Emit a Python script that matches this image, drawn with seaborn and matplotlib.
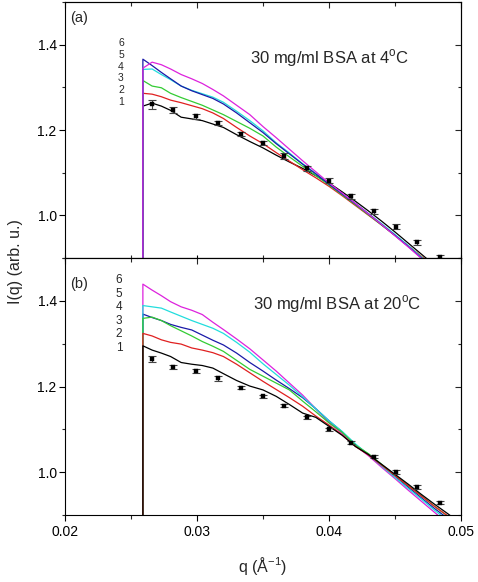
import numpy as np
import pandas as pd
import matplotlib
matplotlib.use("Agg")
import matplotlib.pyplot as plt
import seaborn as sns
from matplotlib.ticker import MultipleLocator, FormatStrFormatter

# ---------------- data ----------------
q0 = 0.0259           # low-q cut of the model curves (model = 0 below it)
I_cut = 0.0

q_model = [0.0259, 0.0266, 0.0273, 0.0280, 0.0288, 0.0296, 0.0304, 0.0312, 0.0320,
           0.0330, 0.0340, 0.0350, 0.0360, 0.0370, 0.0380, 0.0390, 0.0400, 0.0410,
           0.0420, 0.0430, 0.0440, 0.0450, 0.0460, 0.0470, 0.0480, 0.0490, 0.0500]

# panel (a): 30 mg/ml BSA at 4 C
a1 = [1.256, 1.263, 1.256, 1.246, 1.230, 1.226, 1.222, 1.214, 1.206, 1.189, 1.173, 1.158, 1.141,
      1.125, 1.110, 1.093, 1.076, 1.055, 1.033, 1.010, 0.986, 0.961, 0.935, 0.909, 0.883, 0.857, 0.831]
a2 = [1.286, 1.284, 1.278, 1.270, 1.264, 1.257, 1.250, 1.240, 1.227, 1.206, 1.186, 1.168, 1.147,
      1.127, 1.107, 1.088, 1.068, 1.046, 1.023, 1.000, 0.977, 0.953, 0.929, 0.904, 0.879, 0.854, 0.829]
a3 = [1.316, 1.303, 1.299, 1.286, 1.276, 1.267, 1.258, 1.247, 1.236, 1.220, 1.204, 1.186, 1.160,
      1.137, 1.115, 1.093, 1.071, 1.048, 1.025, 1.001, 0.977, 0.953, 0.928, 0.902, 0.876, 0.850, 0.824]
a4 = [1.342, 1.343, 1.330, 1.318, 1.303, 1.293, 1.285, 1.277, 1.265, 1.244, 1.222, 1.198, 1.170,
      1.146, 1.121, 1.098, 1.074, 1.051, 1.028, 1.004, 0.980, 0.955, 0.929, 0.902, 0.875, 0.848, 0.821]
a5 = [1.366, 1.351, 1.335, 1.320, 1.303, 1.292, 1.283, 1.274, 1.261, 1.240, 1.217, 1.194, 1.168,
      1.144, 1.120, 1.097, 1.073, 1.050, 1.027, 1.003, 0.978, 0.953, 0.927, 0.900, 0.873, 0.846, 0.819]
a6 = [1.345, 1.359, 1.353, 1.343, 1.330, 1.320, 1.309, 1.295, 1.280, 1.258, 1.236, 1.208, 1.182,
      1.155, 1.128, 1.102, 1.076, 1.052, 1.028, 1.003, 0.978, 0.952, 0.926, 0.899, 0.872, 0.845, 0.818]

# panel (b): 30 mg/ml BSA at 20 C
b1 = [1.295, 1.285, 1.278, 1.270, 1.256, 1.252, 1.249, 1.243, 1.230, 1.214, 1.201, 1.192, 1.177,
      1.158, 1.138, 1.128, 1.107, 1.086, 1.060, 1.041, 1.018, 0.995, 0.972, 0.948, 0.925, 0.903, 0.880]
b2 = [1.324, 1.318, 1.309, 1.303, 1.299, 1.290, 1.285, 1.279, 1.270, 1.252, 1.232, 1.212, 1.193,
      1.174, 1.154, 1.131, 1.110, 1.087, 1.060, 1.040, 1.016, 0.992, 0.968, 0.944, 0.920, 0.898, 0.875]
b3 = [1.359, 1.362, 1.354, 1.342, 1.330, 1.318, 1.305, 1.294, 1.282, 1.261, 1.240, 1.224, 1.208,
      1.192, 1.166, 1.141, 1.115, 1.093, 1.063, 1.043, 1.018, 0.993, 0.969, 0.945, 0.920, 0.897, 0.873]
b4 = [1.389, 1.386, 1.383, 1.374, 1.364, 1.354, 1.345, 1.336, 1.324, 1.303, 1.280, 1.253, 1.228,
      1.203, 1.176, 1.148, 1.120, 1.095, 1.066, 1.041, 1.014, 0.988, 0.962, 0.937, 0.911, 0.887, 0.862]
b5 = [1.369, 1.361, 1.354, 1.345, 1.338, 1.332, 1.320, 1.308, 1.297, 1.278, 1.256, 1.236, 1.215,
      1.195, 1.174, 1.148, 1.120, 1.094, 1.064, 1.041, 1.015, 0.990, 0.965, 0.940, 0.915, 0.892, 0.868]
b6 = [1.439, 1.425, 1.412, 1.398, 1.386, 1.378, 1.368, 1.350, 1.333, 1.311, 1.288, 1.262, 1.236,
      1.208, 1.180, 1.148, 1.116, 1.090, 1.062, 1.038, 1.011, 0.985, 0.958, 0.932, 0.906, 0.880, 0.855]

# experimental points
q_exp = [0.0266, 0.0282, 0.0299, 0.0316, 0.0333, 0.0350, 0.0366, 0.0383, 0.0400, 0.0417,
         0.0434, 0.0451, 0.0467, 0.0484]
I_exp_a = [1.260, 1.247, 1.232, 1.216, 1.190, 1.169, 1.139, 1.110, 1.081, 1.045, 1.010, 0.973, 0.937, 0.903]
err_a = [0.011, 0.006, 0.006, 0.005, 0.005, 0.005, 0.006, 0.006, 0.006, 0.006, 0.006, 0.006, 0.006, 0.004]
I_exp_b = [1.264, 1.246, 1.236, 1.219, 1.197, 1.177, 1.155, 1.128, 1.100, 1.069, 1.036, 1.000, 0.965, 0.929]
err_b = [0.007, 0.005, 0.005, 0.005, 0.004, 0.004, 0.004, 0.004, 0.004, 0.004, 0.004, 0.004, 0.004, 0.004]

model_labels = ["1", "2", "3", "4", "5", "6"]
colors = {"1": "#000000", "2": "#e02020", "3": "#33cc33",
          "4": "#22dddd", "5": "#1a1aa8", "6": "#dd22dd"}

panel_titles = ["30 mg/ml BSA at 4$^{\\mathregular{o}}$C", "30 mg/ml BSA at 20$^{\\mathregular{o}}$C"]
panel_tags = ["(a)", "(b)"]
x_ticks = [0.02, 0.03, 0.04, 0.05]
y_ticks = [1.0, 1.2, 1.4]

# ---------------- style ----------------
sns.set_theme(style="ticks")
plt.rcParams["font.family"] = ["Liberation Sans", "DejaVu Sans"]
plt.rcParams["mathtext.fontset"] = "custom"
plt.rcParams["mathtext.rm"] = "Liberation Sans"
plt.rcParams["axes.linewidth"] = 0.8


def frame(curves):
    rows = []
    for lab, vals in zip(model_labels, curves):
        rows.append(pd.DataFrame({"q": [q0] + q_model, "I": [I_cut] + vals, "model": lab}))
    return pd.concat(rows, ignore_index=True)


fig = plt.figure(figsize=(4.78, 5.82), dpi=100)
W, H = 478, 582
ax_a = fig.add_axes([65 / W, (H - 258) / H, 396 / W, 256 / H])
ax_b = fig.add_axes([65 / W, (H - 515) / H, 396 / W, 257 / H])

panels = [
    (ax_a, frame([a1, a2, a3, a4, a5, a6]), I_exp_a, err_a, model_labels),
    (ax_b, frame([b1, b2, b3, b4, b5, b6]), I_exp_b, err_b, model_labels[::-1]),
]

label_layout = [(121, 43, 11.8, 7.5), (119, 280, 13.6, 8.5)]
title_pos = [(330, 58), (337, 304)]
tag_pos = [(79, 18), (79, 284)]

for i, (ax, df, I_exp, err, order) in enumerate(panels):
    sns.lineplot(data=df, x="q", y="I", hue="model", hue_order=order, palette=colors,
                 estimator=None, sort=False, linewidth=0.9, legend=False, ax=ax)
    ax.errorbar(q_exp, I_exp, yerr=err, fmt="none", ecolor="#444444", elinewidth=0.8,
                capsize=2.8, capthick=0.8, zorder=4)
    sns.scatterplot(x=q_exp, y=I_exp, marker="s", s=8, color="black", edgecolor="black",
                    linewidth=0.3, zorder=5, ax=ax)
    ax.set_xlim(0.02, 0.05)
    ax.set_ylim(0.9, 1.5)
    ax.set_xlabel("")
    ax.set_ylabel("")
    ax.set_xticks(x_ticks)
    ax.set_yticks(y_ticks)
    ax.xaxis.set_minor_locator(MultipleLocator(0.005))
    ax.yaxis.set_minor_locator(MultipleLocator(0.1))
    ax.yaxis.set_major_formatter(FormatStrFormatter("%.1f"))
    ax.xaxis.set_major_formatter(FormatStrFormatter("%.2f"))
    for s in ax.spines.values():
        s.set_visible(True)
        s.set_color("black")
        s.set_linewidth(0.8)
    ax.tick_params(axis="y", which="major", direction="out", length=4, width=0.8,
                   labelsize=10, colors="black", pad=2)
    ax.tick_params(axis="y", which="minor", direction="out", length=2.5, width=0.8)
    xdir = "inout" if i == 0 else "out"
    ax.tick_params(axis="x", which="major", direction=xdir, length=5 if i == 0 else 4,
                   width=0.8, labelsize=10, colors="black", pad=3)
    ax.tick_params(axis="x", which="minor", direction=xdir, length=5 if i == 0 else 3,
                   width=0.8)
    if i == 0:
        ax.tick_params(axis="x", labelbottom=False)
    # inward ticks on top and right
    sy = ax.secondary_yaxis("right")
    sy.set_yticks(y_ticks)
    sy.yaxis.set_minor_locator(MultipleLocator(0.1))
    sy.tick_params(axis="y", which="major", direction="in", length=4, width=0.8, labelright=False)
    sy.tick_params(axis="y", which="minor", direction="in", length=2.5, width=0.8)
    sy.spines["right"].set_linewidth(0.8)
    sx = ax.secondary_xaxis("top")
    sx.set_xticks(x_ticks)
    sx.xaxis.set_minor_locator(MultipleLocator(0.005))
    sx.tick_params(axis="x", which="major", direction="in", length=4, width=0.8, labeltop=False)
    sx.tick_params(axis="x", which="minor", direction="in", length=3, width=0.8)
    sx.spines["top"].set_linewidth(0.8)

    # annotations
    lx, ly, dy, fs = label_layout[i]
    for k, lab in enumerate(model_labels[::-1]):
        fig.text(lx / W, 1 - (ly + k * dy) / H, lab, fontsize=fs, ha="center", va="center")
    tx, ty = title_pos[i]
    fig.text(tx / W, 1 - ty / H, panel_titles[i], fontsize=12, ha="center", va="center")
    gx, gy = tag_pos[i]
    fig.text(gx / W, 1 - gy / H, panel_tags[i], fontsize=10.5, ha="center", va="center")

fig.text(16 / W, 1 - 262 / H, "I(q) (arb. u.)", rotation=90, fontsize=11.5,
         ha="center", va="center")
fig.text(263 / W, 1 - 566 / H, "q (Å$^{\\mathregular{-1}}$)", fontsize=11.5,
         ha="center", va="center")

fig.savefig("out.png", dpi=100)
